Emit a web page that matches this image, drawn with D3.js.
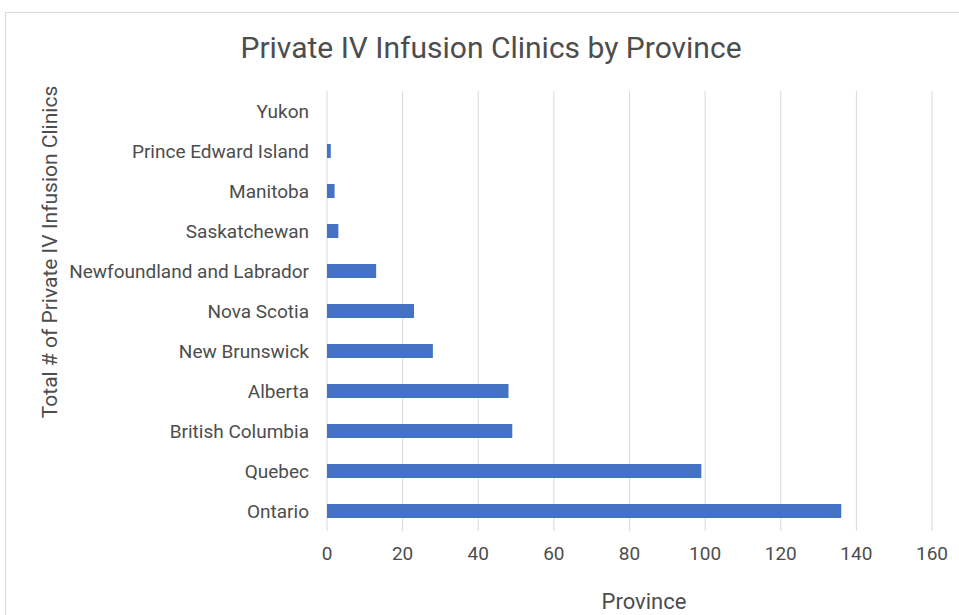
<!DOCTYPE html>
<html>
<head>
<meta charset="utf-8">
<script src="https://cdn.jsdelivr.net/npm/d3@7"></script>
<style>
  body { margin: 0; background: #fff; }
  svg { font-family: Roboto, "Noto Sans", sans-serif; }
</style>
</head>
<body>
<svg></svg>
<script>
const width = 959
const height = 615
const provinces = ['Yukon', 'Prince Edward Island', 'Manitoba', 'Saskatchewan', 'Newfoundland and Labrador',
                   'Nova Scotia', 'New Brunswick', 'Alberta', 'British Columbia', 'Quebec', 'Ontario']
const clinics = [0, 1, 2, 3, 13, 23, 28, 48, 49, 99, 136]
const xTicks = [0, 20, 40, 60, 80, 100, 120, 140, 160]

const data = provinces.map((p, i) => ({ province: p, value: clinics[i] }))

const svg = d3.select('svg')
  .attr('width', width)
  .attr('height', height)

// chart frame
svg.append('path')
  .attr('d', `M5.5,${height} L5.5,12.5 L${width},12.5`)
  .attr('fill', 'none')
  .attr('stroke', '#d9d9d9')
  .attr('stroke-width', 1)

const x = d3.scaleLinear().domain([0, 160]).range([327, 932])
const y = d3.scaleBand().domain(provinces).range([91, 531]).paddingInner(0.65).paddingOuter(0.325)

// gridlines
svg.selectAll('.grid')
  .data(xTicks)
  .join('line')
  .classed('grid', true)
  .attr('x1', d => x(d)).attr('x2', d => x(d))
  .attr('y1', 91).attr('y2', 531)
  .attr('stroke', '#d9d9d9')
  .attr('stroke-width', 1)

// bars
svg.selectAll('.bar')
  .data(data)
  .join('rect')
  .classed('bar', true)
  .attr('x', x(0))
  .attr('y', d => y(d.province))
  .attr('width', d => x(d.value) - x(0))
  .attr('height', y.bandwidth())
  .attr('fill', '#4472c4')

// category labels
svg.selectAll('.cat')
  .data(provinces)
  .join('text')
  .classed('cat', true)
  .attr('x', 309)
  .attr('y', d => y(d) + y.bandwidth() / 2)
  .attr('dy', '0.35em')
  .attr('text-anchor', 'end')
  .attr('fill', '#4d4d4d')
  .style('font-size', '19px')
  .text(d => d)

// x tick labels
svg.selectAll('.tick-label')
  .data(xTicks)
  .join('text')
  .classed('tick-label', true)
  .attr('x', d => x(d))
  .attr('y', 553)
  .attr('dy', '0.35em')
  .attr('text-anchor', 'middle')
  .attr('fill', '#4d4d4d')
  .style('font-size', '19px')
  .text(d => d)

// titles
svg.append('text')
  .attr('x', 491)
  .attr('y', 47)
  .attr('dy', '0.35em')
  .attr('text-anchor', 'middle')
  .attr('fill', '#4d4d4d')
  .style('font-size', '30px')
  .text('Private IV Infusion Clinics by Province')

svg.append('text')
  .attr('x', 644)
  .attr('y', 601)
  .attr('dy', '0.35em')
  .attr('text-anchor', 'middle')
  .attr('fill', '#4d4d4d')
  .style('font-size', '22px')
  .text('Province')

svg.append('text')
  .attr('transform', 'translate(50,252) rotate(-90)')
  .attr('dy', '0.35em')
  .attr('text-anchor', 'middle')
  .attr('fill', '#4d4d4d')
  .style('font-size', '21px')
  .text('Total # of Private IV Infusion Clinics')
</script>
</body>
</html>
